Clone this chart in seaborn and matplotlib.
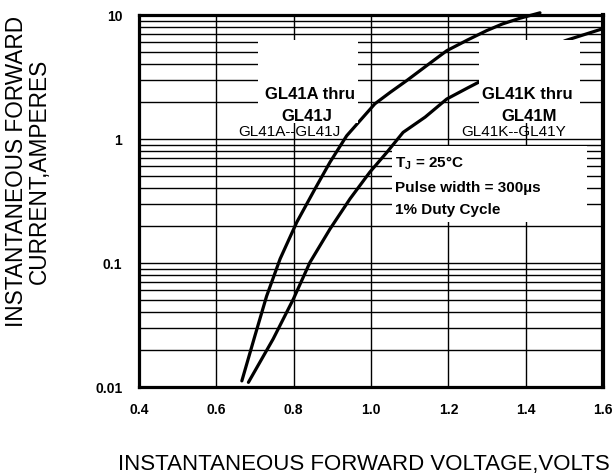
import matplotlib
matplotlib.use("Agg")
import matplotlib.pyplot as plt
import matplotlib.ticker as mticker
from matplotlib.patches import Rectangle
import pandas as pd
import seaborn as sns

# forward characteristic
aj_volts = [0.666, 0.700, 0.730, 0.765, 0.808, 0.855, 0.894, 0.937, 1.010,
            1.050, 1.092, 1.150, 1.196, 1.250, 1.299, 1.340, 1.385, 1.437]
aj_amps = [0.0112, 0.026, 0.054, 0.108, 0.213, 0.395, 0.65, 1.06, 1.92,
           2.38, 2.95, 4.03, 5.15, 6.29, 7.47, 8.46, 9.4, 10.4]

km_volts = [0.683, 0.747, 0.799, 0.842, 0.894, 0.946, 0.997, 1.041, 1.083,
            1.140, 1.196, 1.250, 1.295, 1.502, 1.597]
km_amps = [0.0109, 0.0244, 0.051, 0.101, 0.188, 0.33, 0.54, 0.78, 1.13,
           1.5, 2.1, 2.58, 3.05, 6.2, 7.7]

x_ticks = [0.4, 0.6, 0.8, 1.0, 1.2, 1.4, 1.6]
x_tick_labels = ["0.4", "0.6", "0.8", "1.0", "1.2", "1.4", "1.6"]
y_ticks = [0.01, 0.1, 1, 10]
y_tick_labels = ["0.01", "0.1", "1", "10"]

sns.set_theme(style="white")
plt.rcParams["font.family"] = ["Liberation Sans", "DejaVu Sans"]
plt.rcParams["text.color"] = "black"
plt.rcParams["xtick.color"] = "black"
plt.rcParams["ytick.color"] = "black"

curves = pd.concat([
    pd.DataFrame({"volts": aj_volts, "amps": aj_amps, "grade": "AJ"}),
    pd.DataFrame({"volts": km_volts, "amps": km_amps, "grade": "KM"}),
])

fig = plt.figure(figsize=(6.15, 4.77), dpi=100)
ax = fig.add_axes([0.226, 0.1866, 0.7545, 0.78])

ax.set_yscale("log")
ax.set_xlim(0.4, 1.6)
ax.set_ylim(0.01, 10)

for grade, part in curves.groupby("grade"):
    sns.lineplot(data=part, x="volts", y="amps", ax=ax, color="black",
                 linewidth=2.3, estimator=None, sort=False, zorder=3,
                 clip_on=False)

ax.set_xticks(x_ticks)
ax.set_xticklabels(x_tick_labels)
ax.xaxis.set_minor_locator(mticker.NullLocator())
ax.yaxis.set_major_locator(mticker.FixedLocator(y_ticks))
ax.yaxis.set_major_formatter(mticker.FixedFormatter(y_tick_labels))
ax.yaxis.set_minor_locator(mticker.LogLocator(base=10, subs=range(2, 10)))
ax.yaxis.set_minor_formatter(mticker.NullFormatter())
ax.grid(which="both", color="black", linewidth=1.0)
ax.set_axisbelow(True)
ax.tick_params(which="both", length=0, colors="black")
ax.tick_params(axis="x", pad=11, labelsize=10)
ax.tick_params(axis="y", pad=12, labelsize=10)
for lab in ax.get_xticklabels() + ax.get_yticklabels():
    lab.set_fontweight("bold")
ax.set_xlabel("")
ax.set_ylabel("")
for side, spine in ax.spines.items():
    spine.set_color("black")
    spine.set_linewidth(3.0 if side == "right" else 2.3)
    spine.set_zorder(6)

# white label panels over the grid
ax.add_patch(Rectangle((0.708, 1.35), 0.966 - 0.708, 6.29 - 1.35,
                       facecolor="white", edgecolor="none", zorder=4))
ax.add_patch(Rectangle((1.279, 1.35), 1.540 - 1.279, 6.29 - 1.35,
                       facecolor="white", edgecolor="none", zorder=4))
ax.add_patch(Rectangle((1.054, 0.215), 1.558 - 1.054, 0.88 - 0.215,
                       facecolor="white", edgecolor="none", zorder=2))

ax.text(0.843, 2.31, "GL41A thru", ha="center", va="center", fontsize=12,
        fontweight="bold", zorder=5)
ax.text(0.834, 1.54, "GL41J", ha="center", va="center", fontsize=12,
        fontweight="bold", zorder=5)
ax.text(0.790, 1.16, "GL41A--GL41J", ha="center", va="center", fontsize=11,
        zorder=5)
ax.text(1.405, 2.31, "GL41K thru", ha="center", va="center", fontsize=12,
        fontweight="bold", zorder=5)
ax.text(1.408, 1.54, "GL41M", ha="center", va="center", fontsize=12,
        fontweight="bold", zorder=5)
ax.text(1.368, 1.16, "GL41K--GL41Y", ha="center", va="center", fontsize=11,
        zorder=5)

ax.text(1.062, 0.649, r"T$_\mathregular{J}$ = 25°C", ha="left", va="center",
        fontsize=11, fontweight="bold", zorder=5)
ax.text(1.062, 0.408, "Pulse width = 300µs", ha="left", va="center",
        fontsize=11, fontweight="bold", zorder=5)
ax.text(1.062, 0.272, "1% Duty Cycle", ha="left", va="center",
        fontsize=11, fontweight="bold", zorder=5)

fig.text(0.045, 0.6415, "INSTANTANEOUS FORWARD\nCURRENT,AMPERES",
         rotation=90, ha="center", va="center", fontsize=16.3, linespacing=1.0)
fig.text(0.592, 0.0252, "INSTANTANEOUS FORWARD VOLTAGE,VOLTS",
         ha="center", va="center", fontsize=16)

fig.savefig("out.png", dpi=100)
